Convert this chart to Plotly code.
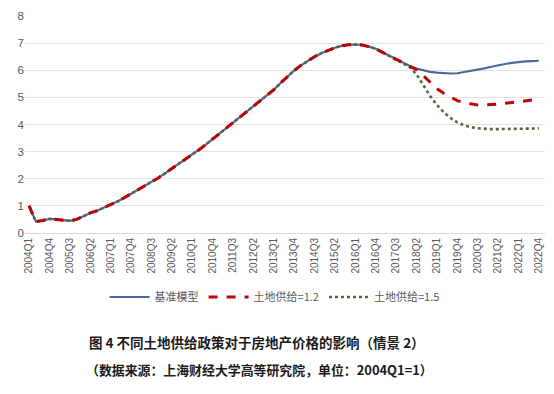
import plotly.graph_objects as go

quarters = [f"{y}Q{q}" for y in range(2004, 2023) for q in range(1, 5)]

tick_labels = ["2004Q1", "2004Q4", "2005Q3", "2006Q2", "2007Q1", "2007Q4", "2008Q3",
               "2009Q2", "2010Q1", "2010Q4", "2011Q3", "2012Q2", "2013Q1", "2013Q4",
               "2014Q3", "2015Q2", "2016Q1", "2016Q4", "2017Q3", "2018Q2", "2019Q1",
               "2019Q4", "2020Q3", "2021Q2", "2022Q1", "2022Q4"]

common = [1.00, 0.42, 0.46, 0.52, 0.50, 0.47, 0.45, 0.50, 0.62, 0.74, 0.82, 0.93,
          1.04, 1.16, 1.30, 1.44, 1.58, 1.72, 1.87, 2.03, 2.20, 2.37, 2.54, 2.71,
          2.88, 3.07, 3.26, 3.46, 3.66, 3.85, 4.05, 4.25, 4.46, 4.66, 4.87, 5.07,
          5.28, 5.53, 5.76, 5.99, 6.18, 6.35, 6.50, 6.63, 6.74, 6.83, 6.90, 6.94,
          6.95, 6.93, 6.87, 6.79, 6.66, 6.53, 6.40, 6.27]

base_tail = [6.16, 6.06, 5.99, 5.94, 5.91, 5.89, 5.88, 5.89, 5.93, 5.97, 6.02, 6.07,
             6.13, 6.19, 6.23, 6.27, 6.31, 6.33, 6.34, 6.35]
land12_tail = [6.16, 6.02, 5.80, 5.56, 5.32, 5.15, 5.00, 4.88, 4.80, 4.75, 4.72, 4.72,
               4.73, 4.75, 4.78, 4.81, 4.85, 4.88, 4.90, 4.91]
land15_tail = [6.12, 5.85, 5.45, 5.05, 4.72, 4.45, 4.24, 4.08, 3.97, 3.90, 3.86, 3.84,
               3.83, 3.83, 3.83, 3.83, 3.84, 3.85, 3.85, 3.86]

base = common + base_tail
land12 = common + land12_tail
land15 = common + land15_tail

names = ["基准模型", "土地供给=1.2", "土地供给=1.5"]

fig = go.Figure()
fig.add_trace(go.Scatter(x=quarters, y=base, name=names[0], mode="lines",
                         line=dict(color="#4A6A9E", width=2.2), legendrank=1))
fig.add_trace(go.Scatter(x=quarters, y=land15, name=names[2], mode="lines",
                         line=dict(color="#56663F", width=2.6, dash="dot"), legendrank=3))
fig.add_trace(go.Scatter(x=quarters, y=land12, name=names[1], mode="lines",
                         line=dict(color="#C00000", width=3, dash="dash"), legendrank=2))

fig.update_layout(
    template="none",
    width=554, height=394,
    margin=dict(l=25, r=9, t=16, b=161, autoexpand=False),
    paper_bgcolor="white", plot_bgcolor="white",
    font=dict(family="Noto Sans CJK SC, Liberation Sans, sans-serif", color="#595959"),
    showlegend=True,
    legend=dict(orientation="h", x=0.48, xanchor="center", y=-0.295, yanchor="middle",
                font=dict(size=11, color="#595959"), itemwidth=40,
                traceorder="normal", bgcolor="rgba(0,0,0,0)"),
    xaxis=dict(type="category", range=[-0.6, 75.9], tickmode="array", automargin=False,
               tickvals=tick_labels, ticktext=tick_labels, tickangle=-90,
               tickfont=dict(size=10, color="#595959", family="Liberation Sans, sans-serif"),
               showgrid=False, showline=True, linecolor="#D9D9D9", linewidth=1,
               ticks="", zeroline=False),
    yaxis=dict(range=[0, 8], dtick=1, showgrid=True, gridcolor="#E3E3E3", gridwidth=1,
               zeroline=False, ticks="", ticklen=0, automargin=False, showline=False,
               tickfont=dict(size=11.5, color="#595959", family="Liberation Sans, sans-serif")),
    annotations=[
        dict(text="<b>图 4 不同土地供给政策对于房地产价格的影响（情景 2）</b>", xref="paper", yref="paper",
             x=0.446, y=-0.502, xanchor="center", yanchor="middle", showarrow=False,
             font=dict(size=13.5, color="#1a1a1a", family="Noto Sans CJK SC")),
        dict(text="<b>（数据来源：上海财经大学高等研究院，单位：2004Q1=1）</b>", xref="paper", yref="paper",
             x=0.45, y=-0.631, xanchor="center", yanchor="middle", showarrow=False,
             font=dict(size=12.9, color="#1a1a1a", family="Noto Sans CJK SC")),
    ],
)

fig.write_html("out.html", config={"displayModeBar": False},
               post_script="document.body.style.margin='0';")
